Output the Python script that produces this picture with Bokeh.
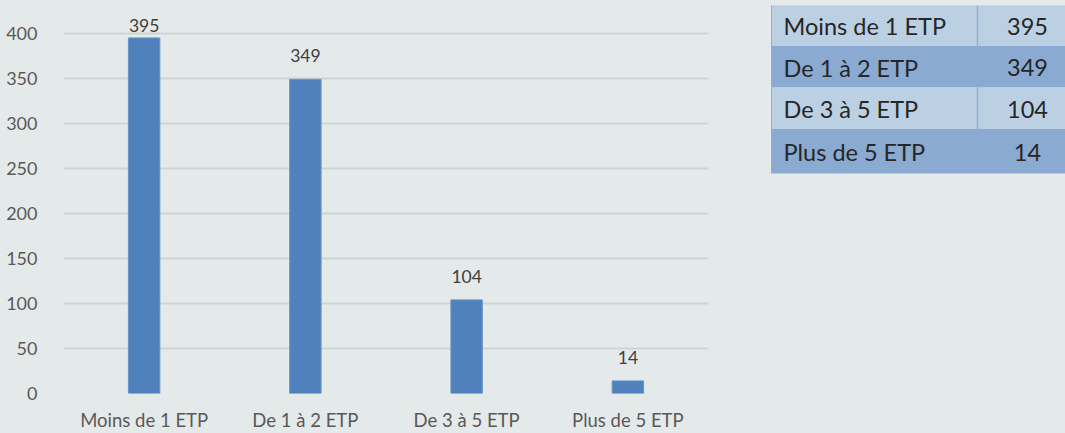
from bokeh.plotting import figure
from bokeh.layouts import row
from bokeh.models import Range1d, FixedTicker, ColumnDataSource, FactorRange
from bokeh.embed import file_html
from bokeh.resources import INLINE
from bokeh.core.properties import value

categories = ["Moins de 1 ETP", "De 1 à 2 ETP", "De 3 à 5 ETP", "Plus de 5 ETP"]
counts = [395, 349, 104, 14]
y_ticks = [0, 50, 100, 150, 200, 250, 300, 350, 400]

BG = "#E4EAEA"
FONT = "Lato"

# ---- bar chart ----
p = figure(x_range=FactorRange(*categories), y_range=Range1d(0, 431),
           width=760, height=433, output_backend="svg", toolbar_location=None,
           min_border_left=63, min_border_right=52, min_border_top=5, min_border_bottom=38)
p.background_fill_color = BG
p.border_fill_color = BG
p.outline_line_color = None
p.x_range.range_padding = 0

p.vbar(x=categories, top=counts, width=0.195, fill_color="#4F81BD", line_color="#6A95C8", line_width=1)

label_y = [min(v + 26, 409) for v in counts]
src = ColumnDataSource(dict(x=categories, y=label_y, t=[str(v) for v in counts]))
p.text(x="x", y="y", text="t", source=src, text_align="center", text_baseline="alphabetic",
       text_font=value(FONT), text_font_size="17.5px", text_color="#404040")

p.yaxis.ticker = FixedTicker(ticks=y_ticks)
p.yaxis.axis_line_color = None
p.yaxis.major_tick_line_color = None
p.yaxis.minor_tick_line_color = None
p.yaxis.major_label_standoff = 20
p.yaxis.major_label_text_font = FONT
p.yaxis.major_label_text_font_size = "18px"
p.yaxis.major_label_text_color = "#595959"

p.xaxis.axis_line_color = None
p.xaxis.major_tick_line_color = None
p.xaxis.major_label_standoff = 9
p.xaxis.major_label_text_font = FONT
p.xaxis.major_label_text_font_size = "18.5px"
p.xaxis.major_label_text_color = "#595959"

p.xgrid.grid_line_color = None
p.ygrid.grid_line_color = "#D0D3D4"
p.ygrid.grid_line_width = 2

# ---- table ----
t = figure(x_range=Range1d(0, 305), y_range=Range1d(440, 7), frame_width=305, frame_height=433,
           output_backend="svg", toolbar_location=None, x_axis_type=None, y_axis_type=None,
           title=None, min_border=0, min_border_left=0, min_border_right=0,
           min_border_top=0, min_border_bottom=0)
t.background_fill_color = BG
t.border_fill_color = BG
t.outline_line_color = None
t.grid.visible = False

n = len(categories)
top0, row_h = 6, 41.5
left, divider, right = 11, 217, 330
tops = [top0 + i * row_h for i in range(n)]
bottoms = [tp + row_h for tp in tops]
bottoms[-1] += 3
fills = ["#BCD0E3" if i % 2 == 0 else "#8AAAD2" for i in range(n)]
t.quad(left=left, right=right, top=tops, bottom=bottoms, fill_color=fills, line_color=None)
# borders
t.segment(x0=left, x1=right, y0=top0, y1=top0, line_color="#8EAED8", line_width=1.5)
light = [i for i in range(n) if i % 2 == 0]
t.segment(x0=[divider] * len(light), x1=[divider] * len(light),
          y0=[tops[i] for i in light], y1=[bottoms[i] for i in light],
          line_color="#8EAED8", line_width=1.5)
t.segment(x0=[left] * n, x1=[left] * n, y0=tops, y1=bottoms, line_color="#8EAED8", line_width=1)

mids = [(a + b) / 2 + 1 for a, b in zip(tops, bottoms)]
t.text(x=[23] * n, y=mids, text=categories, text_align="left", text_baseline="middle",
       text_font=value(FONT), text_font_size="23.5px", text_color="#262626")
t.text(x=[267] * n, y=mids, text=[str(v) for v in counts], text_align="center", text_baseline="middle",
       text_font=value(FONT), text_font_size="23.5px", text_color="#262626")

layout = row(p, t, spacing=0)
html = file_html(layout, INLINE)
html = html.replace("<head>", "<head><style>body{margin:0;background:%s;}</style>" % BG, 1)
open("out.html", "w").write(html)
